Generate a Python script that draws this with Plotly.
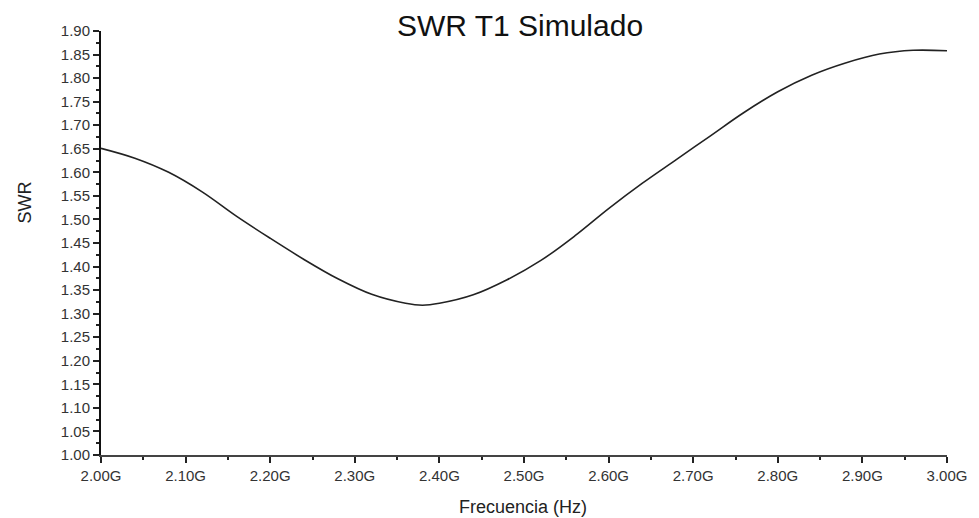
import plotly.graph_objects as go

freq_ghz = [2.00, 2.04, 2.08, 2.12, 2.16, 2.20, 2.24, 2.28, 2.32, 2.36, 2.38,
            2.40, 2.44, 2.48, 2.52, 2.56, 2.60, 2.64, 2.68, 2.72, 2.76, 2.80,
            2.84, 2.88, 2.92, 2.96, 3.00]
swr = [1.651, 1.630, 1.600, 1.558, 1.507, 1.460, 1.415, 1.374, 1.341, 1.322, 1.318,
       1.322, 1.340, 1.372, 1.413, 1.465, 1.523, 1.577, 1.627, 1.677, 1.727, 1.771,
       1.806, 1.832, 1.851, 1.859, 1.858]

x_tick_ghz = [2.00, 2.10, 2.20, 2.30, 2.40, 2.50, 2.60, 2.70, 2.80, 2.90, 3.00]
x_tick_labels = ["2.00G", "2.10G", "2.20G", "2.30G", "2.40G", "2.50G",
                 "2.60G", "2.70G", "2.80G", "2.90G", "3.00G"]
y_ticks = [1.00, 1.05, 1.10, 1.15, 1.20, 1.25, 1.30, 1.35, 1.40, 1.45,
           1.50, 1.55, 1.60, 1.65, 1.70, 1.75, 1.80, 1.85, 1.90]
y_tick_labels = [f"{v:.2f}" for v in y_ticks]

freq_hz = [f * 1e9 for f in freq_ghz]
x_tick_hz = [f * 1e9 for f in x_tick_ghz]

FONT = "Liberation Sans, Arial, sans-serif"

fig = go.Figure()
fig.add_trace(go.Scatter(
    x=freq_hz, y=swr, mode="lines",
    line=dict(color="#222222", width=1.6, shape="spline", smoothing=1.0),
    showlegend=False, hoverinfo="skip",
))

fig.update_layout(
    width=979, height=518,
    margin=dict(l=101, r=26, t=31, b=63),
    paper_bgcolor="white", plot_bgcolor="white",
    font=dict(family=FONT, color="#333333"),
    title=dict(text="SWR T1 Simulado", x=520 / 979, xanchor="center",
               y=1 - 25 / 518, yanchor="middle", yref="container",
               font=dict(size=30, color="#111111", family=FONT)),
    xaxis=dict(
        range=[2.0e9, 3.0e9], tickmode="array", tickvals=x_tick_hz, ticktext=x_tick_labels,
        showgrid=False, zeroline=False, showline=True, linecolor="#444444", linewidth=2,
        ticks="outside", ticklen=6, tickwidth=1.5, tickcolor="#222222",
        tickfont=dict(size=15, color="#333333"),
        minor=dict(tickmode="linear", tick0=2.05e9, dtick=0.1e9, ticks="outside",
                   ticklen=3, tickwidth=1.5, tickcolor="#222222", showgrid=False),
    ),
    yaxis=dict(
        range=[1.0, 1.9], tickmode="array", tickvals=y_ticks, ticktext=y_tick_labels,
        showgrid=False, zeroline=False, showline=True, linecolor="#111111", linewidth=2,
        ticks="outside", ticklen=6, tickwidth=1.5, tickcolor="#222222",
        tickfont=dict(size=15, color="#333333"),
        minor=dict(tickmode="linear", tick0=1.025, dtick=0.05, ticks="outside",
                   ticklen=3, tickwidth=1.5, tickcolor="#222222", showgrid=False),
    ),
    annotations=[
        dict(text="Frecuencia (Hz)", x=526 / 979, y=1 - 507 / 518, xref="paper", yref="paper",
             xanchor="center", yanchor="middle", showarrow=False,
             font=dict(size=18, color="#222222", family=FONT)),
        dict(text="SWR", x=24 / 979, y=1 - 203 / 518, xref="paper", yref="paper",
             xanchor="center", yanchor="middle", showarrow=False, textangle=-90,
             font=dict(size=18, color="#222222", family=FONT)),
    ],
)

# annotations use paper coords relative to plot area; convert from container pixels
pa_w = 979 - 101 - 26
pa_h = 518 - 31 - 63
fig.layout.annotations[0].x = (526 - 101) / pa_w
fig.layout.annotations[0].y = (455 - 507) / pa_h
fig.layout.annotations[1].x = (24 - 101) / pa_w
fig.layout.annotations[1].y = (455 - 203) / pa_h

fig.write_html("out.html")
